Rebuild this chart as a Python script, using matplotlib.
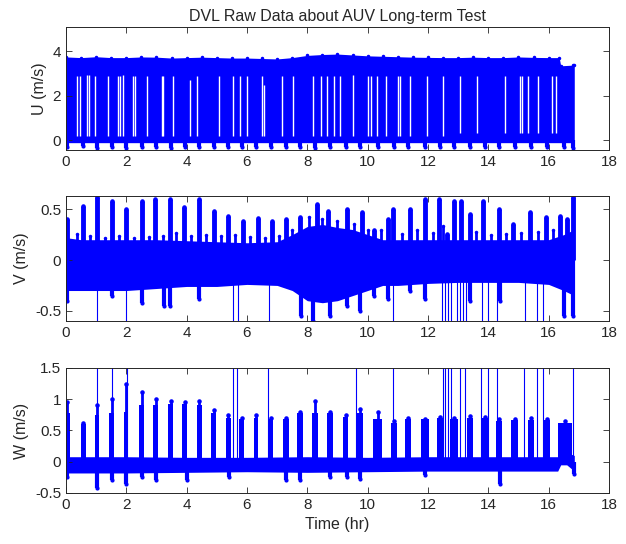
import numpy as np
import matplotlib
matplotlib.use('Agg')
import matplotlib.pyplot as plt

plt.rcParams['font.family'] = ['Liberation Sans', 'DejaVu Sans']

BLUE = (0.0, 0.0, 1.0)

# ---- U (m/s): dense band, white gaps, bottom dips ----
u_env_t = [0, 0.5, 1, 1.5, 2, 2.5, 3, 3.5, 4, 4.5, 5, 5.5, 6, 6.5, 7, 7.5, 8, 8.5, 9, 9.5, 10, 10.5, 11,
           11.5, 12, 12.5, 13, 13.5, 14, 14.5, 15, 15.5, 16, 16.35, 16.4, 16.8, 16.85]
u_hi = [3.75, 3.72, 3.76, 3.72, 3.72, 3.75, 3.74, 3.7, 3.72, 3.74, 3.72, 3.7, 3.7, 3.68, 3.66, 3.72,
        3.82, 3.86, 3.88, 3.84, 3.8, 3.78, 3.76, 3.74, 3.73, 3.72, 3.72, 3.74, 3.72, 3.72, 3.75,
        3.73, 3.72, 3.72, 3.35, 3.38, 3.4]
u_lo = [-0.12, -0.12, -0.12, -0.12, -0.12, -0.12, -0.12, -0.12, -0.12, -0.12, -0.12, -0.12, -0.12,
        -0.12, -0.12, -0.12, -0.12, -0.12, -0.12, -0.12, -0.12, -0.12, -0.12, -0.12, -0.12, -0.12,
        -0.12, -0.12, -0.12, -0.12, -0.12, -0.12, -0.12, -0.12, -0.12, -0.12, -0.12]
u_gap_t = [0.37, 0.46, 0.71, 0.77, 0.96, 1.4, 1.73, 1.8, 1.9, 2.21, 2.28, 2.7, 3.17, 3.22, 3.56,
           4.11, 4.33, 5.08, 5.55, 5.77, 6.01, 6.49, 6.55, 7.15, 7.51, 8.18, 8.47, 8.64, 8.88, 9.08,
           9.5, 10.02, 10.1, 10.32, 10.6, 11.01, 11.08, 11.4, 11.96, 12.51, 13.06, 13.61, 14.55,
           15.05, 15.12, 15.32, 15.66, 16.1, 16.26]
u_gap_lo = [0.2, 0.2, 0.2, 0.2, 0.2, 0.2, 0.2, 0.2, 0.2, 0.2, 0.2, 0.2, 0.2, 0.2, 0.2,
            0.2, 0.2, 0.2, 0.2, 0.2, 0.2, 0.2, 0.2, 0.2, 0.2, 0.2, 0.2, 0.2, 0.2, 0.2,
            0.2, 0.2, 0.2, 0.2, 0.2, 0.2, 0.2, 0.2, 0.2, 0.2, 0.3, 0.3, 0.3,
            0.3, 0.3, 0.3, 0.3, 0.3, 0.3]
u_gap_hi = [2.9, 2.9, 2.95, 2.95, 2.9, 2.9, 2.9, 2.9, 2.95, 2.9, 2.9, 2.9, 2.9, 2.9, 2.9,
            2.7, 2.9, 2.9, 2.9, 2.9, 2.9, 2.9, 2.5, 2.9, 2.9, 2.9, 2.9, 2.9, 2.9, 2.9,
            2.95, 2.9, 2.9, 2.9, 2.9, 2.9, 2.9, 2.9, 2.9, 2.9, 2.9, 2.9, 2.9,
            2.9, 2.9, 2.9, 2.9, 2.9, 2.9]
u_dip_t = [0.05, 0.58, 1.02, 1.51, 1.99, 2.51, 2.98, 3.47, 3.94, 4.42, 4.9, 5.38, 5.82, 6.3, 6.78,
           7.29, 7.76, 8.25, 8.75, 9.27, 9.74, 10.33, 10.87, 11.34, 11.9, 12.4, 12.86, 13.39,
           13.89, 14.35, 14.88, 15.4, 15.93, 16.5, 16.82]
u_dip = [-0.3, -0.25, -0.35, -0.3, -0.35, -0.3, -0.3, -0.35, -0.3, -0.3, -0.3, -0.3, -0.3, -0.3, -0.3,
         -0.3, -0.3, -0.35, -0.3, -0.3, -0.3, -0.3, -0.3, -0.3, -0.3, -0.3, -0.3, -0.3,
         -0.3, -0.3, -0.3, -0.3, -0.3, -0.3, -0.35]

# ---- V (m/s): noise band, burst peaks, dips ----
v_env_t = [0, 0.5, 1, 2, 3, 4, 5, 6, 7, 7.5, 8, 8.5, 9, 9.5, 10, 10.5, 11, 12, 13, 14, 15, 16, 16.5, 16.85]
v_hi = [0.22, 0.2, 0.2, 0.2, 0.2, 0.19, 0.18, 0.17, 0.18, 0.25, 0.33, 0.35, 0.32, 0.3, 0.25, 0.2, 0.2, 0.2, 0.2, 0.2, 0.2, 0.2, 0.25, 0.3]
v_lo = [-0.3, -0.3, -0.3, -0.3, -0.28, -0.26, -0.26, -0.24, -0.25, -0.3, -0.4, -0.42, -0.4, -0.35, -0.3, -0.25, -0.25, -0.23, -0.22, -0.22, -0.22, -0.24, -0.3, -0.35]
v_peak_t = [0.05, 0.57, 1.02, 1.51, 1.99, 2.51, 2.95, 3.45, 3.92, 4.41, 4.9, 5.36, 5.88, 6.35, 6.82,
            7.29, 7.76, 8.31, 8.69, 9.3, 9.8, 10.2, 10.67, 10.84, 11.4, 11.9, 12.37, 12.62, 12.86,
            13.11, 13.39, 13.81, 14.35, 14.83, 15.38, 15.91, 16.37, 16.6, 16.82]
v_peak = [0.4, 0.53, 0.62, 0.58, 0.5, 0.58, 0.6, 0.6, 0.52, 0.6, 0.48, 0.43, 0.38, 0.41, 0.38,
          0.4, 0.42, 0.55, 0.48, 0.5, 0.47, 0.3, 0.4, 0.5, 0.5, 0.6, 0.6, 0.26, 0.58,
          0.58, 0.45, 0.58, 0.5, 0.35, 0.47, 0.42, 0.43, 0.4, 0.62]
v_small_t = [0.35, 0.8, 1.3, 1.75, 2.25, 2.75, 3.2, 3.65, 4.15, 4.65, 5.15, 5.6, 6.1, 6.6, 7.05,
             7.5, 8.05, 8.5, 9.0, 9.55, 10.0, 10.45, 11.15, 11.65, 12.15, 12.5, 13.6, 14.1, 14.6,
             15.1, 15.65, 16.15]
v_small = [0.26, 0.24, 0.22, 0.24, 0.22, 0.23, 0.24, 0.27, 0.24, 0.25, 0.24, 0.25, 0.23, 0.22, 0.24,
           0.3, 0.42, 0.4, 0.38, 0.35, 0.3, 0.3, 0.26, 0.3, 0.27, 0.33, 0.28, 0.25, 0.26,
           0.27, 0.28, 0.3]
v_dip_t = [0.05, 1.51, 2.51, 3.25, 3.45, 4.41, 7.8, 8.2, 8.75, 9.3, 9.75, 10.2, 10.67, 11.4, 11.9,
           13.4, 14.4, 16.5, 16.82]
v_dip = [-0.4, -0.35, -0.42, -0.45, -0.45, -0.38, -0.55, -0.6, -0.55, -0.45, -0.5, -0.35, -0.38, -0.3,
         -0.38, -0.4, -0.4, -0.55, -0.55]
v_spike_t = [1.02, 2.0, 5.55, 5.7, 6.72, 10.84, 12.45, 12.55, 12.65, 12.75, 12.95, 13.05, 13.15,
             13.25, 13.8, 14.0, 14.3, 15.2, 15.6, 15.8]
v_spike = [-0.7, -0.7, -0.7, -0.7, -0.7, -0.7, -0.7, -0.7, -0.7, -0.7, -0.7, -0.7, -0.7,
           -0.7, -0.7, -0.7, -0.7, -0.7, -0.7, -0.7]

# ---- W (m/s): baseline band, pillars, spikes ----
w_env_t = [0, 1, 2, 4, 6, 8, 10, 12, 14, 16, 16.3, 16.4, 16.6, 16.85]
w_hi = [0.08, 0.08, 0.08, 0.07, 0.07, 0.08, 0.07, 0.08, 0.08, 0.08, 0.08, 0.15, 0.15, 0.1]
w_lo = [-0.18, -0.18, -0.18, -0.17, -0.16, -0.17, -0.16, -0.15, -0.15, -0.15, -0.15, -0.05, -0.05, -0.15]
w_pil_t = [0.05, 0.58, 1.02, 1.51, 1.99, 2.51, 2.98, 3.47, 3.94, 4.42, 4.9, 5.38, 5.82, 6.3, 6.78,
           7.29, 7.76, 8.25, 8.75, 9.27, 9.74, 10.33, 10.87, 11.34, 11.9, 12.4, 12.86, 13.39,
           13.89, 14.35, 14.88, 15.4, 15.93, 16.55]
w_pil = [0.78, 0.6, 0.75, 0.78, 0.8, 0.9, 0.9, 0.92, 0.92, 0.9, 0.78, 0.7, 0.68, 0.7, 0.68,
         0.68, 0.78, 0.78, 0.78, 0.72, 0.78, 0.68, 0.62, 0.68, 0.68, 0.7, 0.68, 0.7,
         0.7, 0.65, 0.66, 0.66, 0.66, 0.62]
w_pil_w = [0.16, 0.18, 0.14, 0.14, 0.14, 0.16, 0.16, 0.16, 0.16, 0.16, 0.16, 0.16, 0.16, 0.16, 0.16,
           0.18, 0.18, 0.18, 0.2, 0.18, 0.2, 0.32, 0.18, 0.18, 0.24, 0.18, 0.24, 0.2,
           0.24, 0.2, 0.24, 0.2, 0.2, 0.45]
w_peak = [0.95, 0.62, 0.9, 1.0, 1.25, 1.12, 1.0, 0.97, 0.95, 0.97, 0.82, 0.75, 0.7, 0.75, 0.7,
          0.7, 0.8, 0.97, 0.8, 0.75, 0.85, 0.8, 0.65, 0.7, 0.68, 0.72, 0.7, 0.73,
          0.72, 0.68, 0.68, 0.7, 0.68, 0.65]
w_spike_t = [1.04, 1.51, 2.01, 5.55, 5.66, 6.71, 9.63, 10.85, 12.49, 12.56, 12.67, 12.75, 13.06,
             13.23, 13.76, 14.0, 14.3, 15.18, 15.62, 15.8, 16.82]
w_spike = [2.0, 2.0, 2.0, 2.0, 2.0, 2.0, 2.0, 2.0, 2.0, 2.0, 2.0, 2.0, 2.0,
           2.0, 2.0, 2.0, 2.0, 2.0, 2.0, 2.0, 2.0]
w_dip_t = [0.05, 1.02, 1.51, 2.0, 2.51, 3.0, 4.0, 5.4, 7.3, 7.75, 8.75, 9.3, 9.75, 11.9, 14.4, 16.85]
w_dip = [-0.25, -0.42, -0.3, -0.35, -0.25, -0.3, -0.3, -0.25, -0.3, -0.3, -0.25, -0.25, -0.28, -0.22, -0.35, -0.2]

x_ticks = [0, 2, 4, 6, 8, 10, 12, 14, 16, 18]


def style_axis(ax, ylim, yticks, yticklabels, ylabel):
    ax.set_xlim(0, 18)
    ax.set_ylim(*ylim)
    ax.set_xticks(x_ticks)
    ax.set_yticks(yticks)
    ax.set_yticklabels(yticklabels)
    ax.set_ylabel(ylabel, fontsize=11.5, color='#262626')
    ax.tick_params(direction='in', top=True, right=True, length=4, width=0.6,
                   labelsize=11, colors='#262626')
    for s in ax.spines.values():
        s.set_color('#262626')
        s.set_linewidth(0.7)


fig = plt.figure(figsize=(6.26, 5.44), dpi=100)
ax_u = fig.add_axes([0.1054, 0.7243, 0.8674, 0.226])
ax_v = fig.add_axes([0.1054, 0.4099, 0.8674, 0.2298])
ax_w = fig.add_axes([0.1054, 0.0938, 0.8674, 0.2298])

# U
ax_u.fill_between(u_env_t, u_lo, u_hi, color=BLUE, lw=0)
ax_u.plot(u_env_t, u_hi, '.', color=BLUE, ms=3)
ax_u.vlines(u_gap_t, u_gap_lo, u_gap_hi, colors='white', lw=1.0)
ax_u.vlines(u_dip_t, 0, u_dip, colors=BLUE, lw=3)
ax_u.plot(u_dip_t, u_dip, '.', color=BLUE, ms=4)
style_axis(ax_u, (-0.45, 5.1), [0, 2, 4], ['0', '2', '4'], 'U (m/s)')
ax_u.set_title('DVL Raw Data about AUV Long-term Test', fontsize=11.5, color='#262626', pad=4)

# V
ax_v.fill_between(v_env_t, v_lo, v_hi, color=BLUE, lw=0)
ax_v.vlines(v_spike_t, 0, v_spike, colors=BLUE, lw=0.8)
ax_v.vlines(v_small_t, 0, v_small, colors=BLUE, lw=2)
ax_v.plot(v_small_t, v_small, '.', color=BLUE, ms=3)
ax_v.vlines(v_peak_t, 0, v_peak, colors=BLUE, lw=3.5)
ax_v.plot(v_peak_t, v_peak, '.', color=BLUE, ms=4.5)
ax_v.vlines(v_dip_t, 0, v_dip, colors=BLUE, lw=3)
ax_v.plot(v_dip_t, v_dip, '.', color=BLUE, ms=4)
style_axis(ax_v, (-0.6, 0.63), [-0.5, 0, 0.5], ['-0.5', '0', '0.5'], 'V (m/s)')

# W
ax_w.fill_between(w_env_t, w_lo, w_hi, color=BLUE, lw=0)
ax_w.vlines(w_spike_t, 0, w_spike, colors=BLUE, lw=0.8)
ax_w.bar(w_pil_t, w_pil, width=w_pil_w, color=BLUE, lw=0)
ax_w.vlines(w_pil_t, 0, w_peak, colors=BLUE, lw=2)
ax_w.plot(w_pil_t, w_peak, '.', color=BLUE, ms=4.5)
ax_w.vlines(w_dip_t, 0, w_dip, colors=BLUE, lw=3)
ax_w.plot(w_dip_t, w_dip, '.', color=BLUE, ms=4)
style_axis(ax_w, (-0.5, 1.5), [-0.5, 0, 0.5, 1, 1.5], ['-0.5', '0', '0.5', '1', '1.5'], 'W (m/s)')
ax_w.set_xlabel('Time (hr)', fontsize=11.5, color='#262626')

fig.savefig('out.png', dpi=100)
